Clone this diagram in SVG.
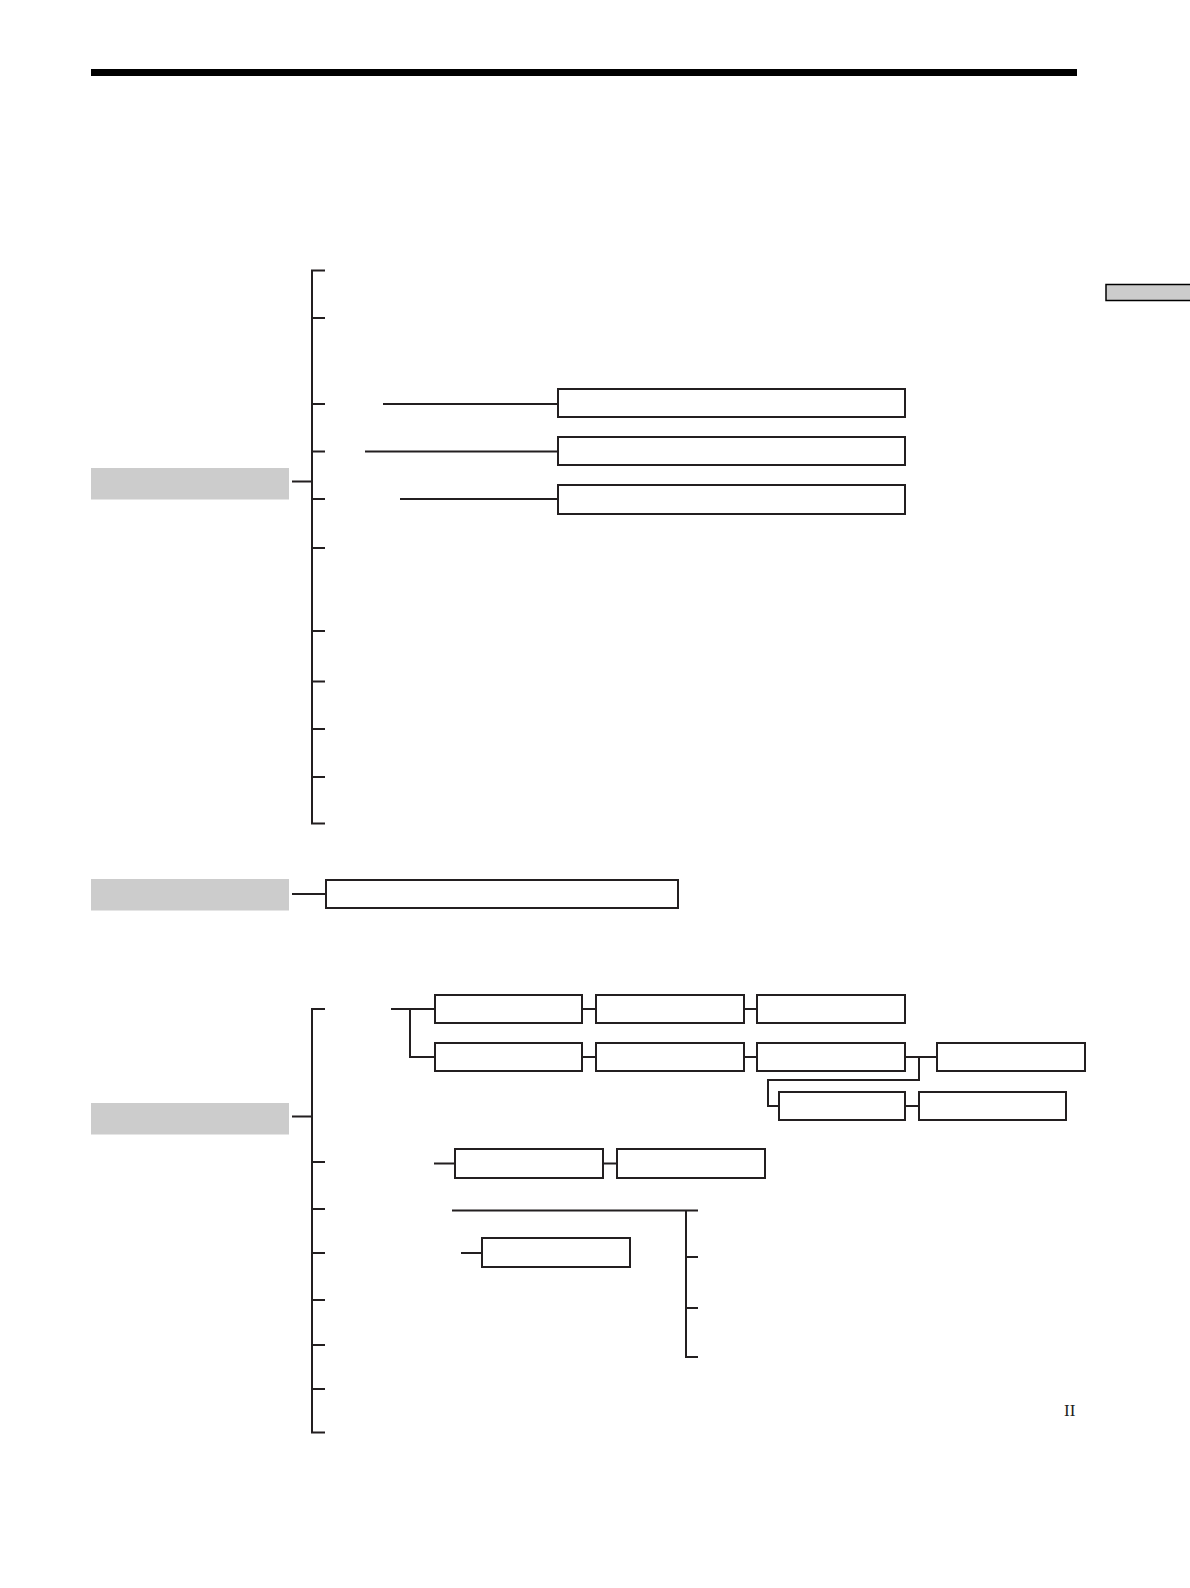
<svg xmlns="http://www.w3.org/2000/svg" width="1190" height="1588" viewBox="0 0 1190 1588">
<style>
.box{fill:#fff;stroke:#231f20;stroke-width:2}
.hdr{fill:#cccccc;stroke:none}
.ln{fill:none;stroke:#231f20;stroke-width:2}
.pg{font-family:"Liberation Serif",serif;font-size:17px;fill:#231f20}
</style>
<rect x="0" y="0" width="1190" height="1588" fill="#fff"/>
<rect id="topbar" x="91" y="69" width="986" height="7" fill="#000"/>
<rect id="tab" x="1106" y="284.5" width="86" height="16" fill="#cccccc" stroke="#000" stroke-width="1.5"/>

<g id="hdr1"><rect class="hdr" x="91" y="468" width="198" height="31.5"/></g>
<g id="hdr2"><rect class="hdr" x="91" y="879" width="198" height="31.5"/></g>
<g id="hdr3"><rect class="hdr" x="91" y="1103" width="198" height="31.5"/></g>

<g id="b1"><rect class="box" x="558" y="389" width="347" height="28"/></g>
<g id="b2"><rect class="box" x="558" y="437" width="347" height="28"/></g>
<g id="b3"><rect class="box" x="558" y="485" width="347" height="29"/></g>
<g id="b4"><rect class="box" x="326" y="880" width="352" height="28"/></g>
<g id="r1a"><rect class="box" x="435" y="995" width="147" height="28"/></g>
<g id="r1b"><rect class="box" x="596" y="995" width="148" height="28"/></g>
<g id="r1c"><rect class="box" x="757" y="995" width="148" height="28"/></g>
<g id="r2a"><rect class="box" x="435" y="1043" width="147" height="28"/></g>
<g id="r2b"><rect class="box" x="596" y="1043" width="148" height="28"/></g>
<g id="r2c"><rect class="box" x="757" y="1043" width="148" height="28"/></g>
<g id="r2d"><rect class="box" x="937" y="1043" width="148" height="28"/></g>
<g id="r3a"><rect class="box" x="779" y="1092" width="126" height="28"/></g>
<g id="r3b"><rect class="box" x="919" y="1092" width="147" height="28"/></g>
<g id="s2a"><rect class="box" x="455" y="1149" width="148" height="29"/></g>
<g id="s2b"><rect class="box" x="617" y="1149" width="148" height="29"/></g>
<g id="s4a"><rect class="box" x="482" y="1238" width="148" height="29"/></g>

<g id="connectors">
<!-- section 1 -->
<path class="ln" d="M292 481.5H312M325 270.5H312V823.5H325"/>
<path class="ln" d="M312 318H325M312 404H325M312 451.5H325M312 499H325M312 548H325M312 631H325M312 681.5H325M312 729H325M312 777H325"/>
<path class="ln" d="M383 404H558M365 451.5H558M400 499H558"/>
<!-- section 2 -->
<path class="ln" d="M292 894H326"/>
<!-- section 3 -->
<path class="ln" d="M292 1116.5H312M325 1009H312V1432.5H325"/>
<path class="ln" d="M312 1162H325M312 1209H325M312 1253H325M312 1300H325M312 1345H325M312 1389H325"/>
<path class="ln" d="M391 1009H435M410 1009V1057H435"/>
<path class="ln" d="M582 1009H596M744 1009H757M582 1057H596M744 1057H757M905 1057H937"/>
<path class="ln" d="M919 1057V1080H768V1106H779M905 1106H919"/>
<path class="ln" d="M434 1163.5H455M603 1163.5H617"/>
<path class="ln" d="M452 1210.5H698M686 1210.5V1357H698M686 1257H698M686 1308H698"/>
<path class="ln" d="M461 1253H482"/>
</g>
<text class="pg" x="1064" y="1416">II</text>
</svg>
